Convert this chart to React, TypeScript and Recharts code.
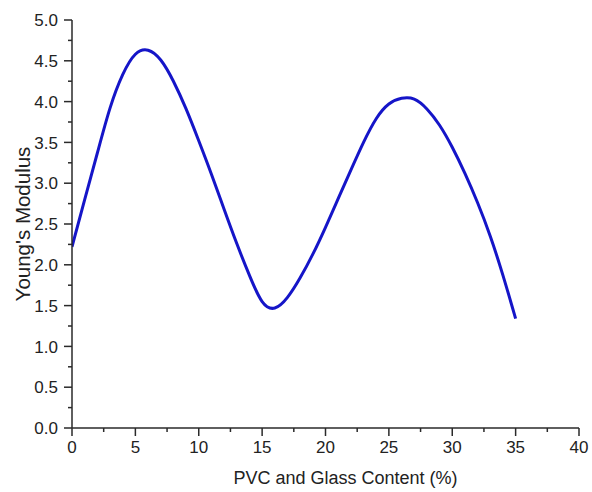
import React from 'react';
import { LineChart, Line, XAxis, YAxis } from 'recharts';

// PVC and glass content (%)
const contentValues = [0, 1, 2, 3, 4, 5, 6, 7, 8, 9, 10, 11, 12, 13, 14, 15, 16, 17, 18, 19, 20, 21, 22, 23, 24, 25, 26, 27, 28, 29, 30, 31, 32, 33, 34, 35];
// Young's modulus
const modulusValues = [2.22, 2.8, 3.37, 3.92, 4.33, 4.58, 4.63, 4.51, 4.25, 3.91, 3.52, 3.11, 2.68, 2.26, 1.87, 1.55, 1.47, 1.6, 1.84, 2.13, 2.46, 2.81, 3.16, 3.5, 3.79, 3.97, 4.04, 4.03, 3.91, 3.71, 3.44, 3.12, 2.76, 2.35, 1.87, 1.34];

const xMajorTicks = [0, 5, 10, 15, 20, 25, 30, 35, 40];
const xMinorTicks = [2.5, 7.5, 12.5, 17.5, 22.5, 27.5, 32.5, 37.5];
const yMajorTicks = [0, 0.5, 1, 1.5, 2, 2.5, 3, 3.5, 4, 4.5, 5];
const yMinorTicks = [0.25, 0.75, 1.25, 1.75, 2.25, 2.75, 3.25, 3.75, 4.25, 4.75];

const xAxisTitle = 'PVC and Glass Content (%)';
const yAxisTitle = "Young's Modulus";

const data = contentValues.map((x, i) => ({ x, y: modulusValues[i] }));
const xTicks = [...xMajorTicks, ...xMinorTicks].sort((a, b) => a - b);
const yTicks = [...yMajorTicks, ...yMinorTicks].sort((a, b) => a - b);

const FONT = '"Liberation Sans", Arial, sans-serif';
const AXIS_COLOR = '#2a2a2a';
const TEXT_COLOR = '#222';

const XTick = (props: any) => {
  const { x, y, payload } = props;
  const major = xMajorTicks.includes(payload.value);
  return (
    <g>
      <line x1={x} x2={x} y1={y} y2={y + (major ? 8 : 4)} stroke={AXIS_COLOR} strokeWidth={1.5} />
      {major && (
        <text x={x} y={y + 25} textAnchor="middle" fontFamily={FONT} fontSize={17} fill={TEXT_COLOR}>
          {payload.value}
        </text>
      )}
    </g>
  );
};

const YTick = (props: any) => {
  const { x, y, payload } = props;
  const major = yMajorTicks.includes(payload.value);
  return (
    <g>
      <line x1={x - (major ? 8 : 4)} x2={x} y1={y} y2={y} stroke={AXIS_COLOR} strokeWidth={1.5} />
      {major && (
        <text x={x - 14} y={y} dy="0.36em" textAnchor="end" fontFamily={FONT} fontSize={17} fill={TEXT_COLOR}>
          {payload.value.toFixed(1)}
        </text>
      )}
    </g>
  );
};

const YTitle = (props: any) => {
  const vb = props.viewBox || {};
  const cx = vb.x + 22;
  const cy = vb.y + vb.height / 2;
  return (
    <text
      x={cx}
      y={cy}
      transform={`rotate(-90 ${cx} ${cy})`}
      textAnchor="middle"
      dominantBaseline="central"
      fontFamily={FONT}
      fontSize={20.5}
      fill={TEXT_COLOR}
    >
      {yAxisTitle}
    </text>
  );
};

const XTitle = (props: any) => {
  const vb = props.viewBox || {};
  const cx = vb.x + vb.width / 2 + 20;
  const by = vb.y + vb.height - 8;
  return (
    <text x={cx} y={by} textAnchor="middle" fontFamily={FONT} fontSize={18} fill={TEXT_COLOR}>
      {xAxisTitle}
    </text>
  );
};

export default function App() {
  return (
    <div style={{ position: 'absolute', left: 0, top: 0, background: '#fff' }}>
      <LineChart width={592} height={492} data={data} margin={{ top: 20, right: 13, left: 0, bottom: 0 }}>
        <XAxis
          dataKey="x"
          type="number"
          domain={[0, 40]}
          ticks={xTicks}
          interval={0}
          tickSize={0}
          tickMargin={0}
          tick={<XTick />}
          height={64}
          axisLine={{ stroke: AXIS_COLOR, strokeWidth: 1.5 }}
          tickLine={false}
          allowDataOverflow
          label={<XTitle />}
        />
        <YAxis
          type="number"
          domain={[0, 5]}
          ticks={yTicks}
          interval={0}
          tickSize={0}
          tickMargin={0}
          tick={<YTick />}
          width={72}
          axisLine={{ stroke: AXIS_COLOR, strokeWidth: 1.5 }}
          tickLine={false}
          allowDataOverflow
          label={<YTitle />}
        />
        <Line
          type="natural"
          dataKey="y"
          stroke="#1515c8"
          strokeWidth={3}
          dot={false}
          activeDot={false}
          isAnimationActive={false}
        />
      </LineChart>
    </div>
  );
}
